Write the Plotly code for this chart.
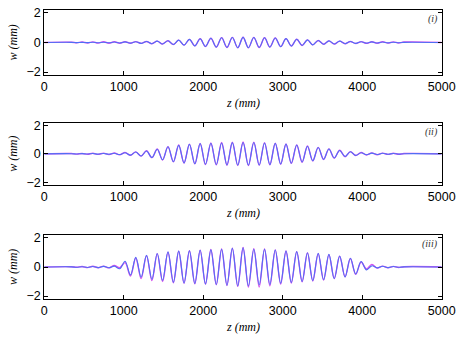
import plotly.graph_objects as go

# positions (mm) of successive crests / troughs
Z = [0, 341, 408, 476, 544, 611, 678, 746, 814, 881, 948, 1016, 1084, 1151, 1218, 1286, 1354,
     1421, 1488, 1556, 1624, 1691, 1758, 1826, 1894, 1961, 2028, 2096, 2164, 2231, 2298,
     2366, 2434, 2501, 2568, 2636, 2704, 2771, 2838, 2906, 2974, 3041, 3108, 3176, 3244,
     3311, 3378, 3446, 3514, 3581, 3648, 3716, 3784, 3851, 3918, 3986, 4054, 4121, 4188,
     4256, 4324, 4391, 4458, 4526, 5000]

# panel (i)
W1_BLUE = [0, 0.01, -0.01, 0.01, -0.01, 0.015, -0.015, 0.02, -0.02, 0.03, -0.03, 0.04, -0.04,
           0.05, -0.06, 0.07, -0.08, 0.09, -0.10, 0.12, -0.14, 0.16, -0.18, 0.21, -0.23,
           0.25, -0.27, 0.29, -0.31, 0.32, -0.33, 0.34, -0.35, 0.35, -0.35, 0.34, -0.33,
           0.32, -0.31, 0.30, -0.28, 0.26, -0.24, 0.22, -0.20, 0.18, -0.16, 0.14, -0.12,
           0.11, -0.10, 0.09, -0.08, 0.07, -0.06, 0.05, -0.045, 0.04, -0.035, 0.03, -0.025,
           0.02, -0.015, 0.01, 0]
W1_MAG = [0, 0.02, -0.02, 0.03, -0.03, 0.04, -0.04, 0.05, -0.05, 0.05, -0.05, 0.05, -0.05,
          0.06, -0.06, 0.07, -0.08, 0.09, -0.10, 0.12, -0.14, 0.16, -0.18, 0.21, -0.23,
          0.25, -0.27, 0.29, -0.31, 0.33, -0.34, 0.35, -0.36, 0.36, -0.36, 0.35, -0.34,
          0.32, -0.31, 0.30, -0.28, 0.26, -0.24, 0.22, -0.20, 0.18, -0.16, 0.14, -0.12,
          0.11, -0.10, 0.09, -0.08, 0.07, -0.07, 0.06, -0.06, 0.05, -0.05, 0.05, -0.04,
          0.04, -0.03, 0.03, 0]

# panel (ii)
W2_BLUE = [0, 0.01, -0.01, 0.015, -0.015, 0.02, -0.02, 0.03, -0.03, 0.04, -0.05, 0.08, -0.09,
           0.13, -0.15, 0.20, -0.26, 0.33, -0.42, 0.50, -0.56, 0.60, -0.64, 0.67, -0.70,
           0.72, -0.74, 0.75, -0.76, 0.77, -0.78, 0.79, -0.80, 0.80, -0.80, 0.80, -0.79,
           0.77, -0.76, 0.74, -0.72, 0.69, -0.66, 0.62, -0.58, 0.54, -0.49, 0.45, -0.39,
           0.34, -0.29, 0.24, -0.19, 0.15, -0.11, 0.08, -0.06, 0.05, -0.05, 0.04, -0.03,
           0.03, -0.02, 0.01, 0]
W2_MAG = [0, 0.02, -0.02, 0.03, -0.03, 0.04, -0.04, 0.05, -0.05, 0.06, -0.07, 0.10, -0.10,
          0.14, -0.16, 0.22, -0.27, 0.34, -0.43, 0.51, -0.57, 0.62, -0.65, 0.69, -0.71,
          0.74, -0.76, 0.77, -0.78, 0.80, -0.81, 0.82, -0.83, 0.84, -0.83, 0.83, -0.81,
          0.79, -0.77, 0.75, -0.73, 0.70, -0.67, 0.63, -0.59, 0.55, -0.50, 0.46, -0.40,
          0.35, -0.30, 0.25, -0.20, 0.16, -0.12, 0.10, -0.08, 0.07, -0.06, 0.05, -0.04,
          0.04, -0.03, 0.02, 0]

# panel (iii)
W3_BLUE = [0, 0.01, -0.02, 0.02, -0.03, 0.03, -0.04, 0.04, -0.05, 0.06, -0.12, 0.40, -0.55,
           0.66, -0.70, 0.80, -0.84, 0.93, -0.93, 1.04, -1.05, 1.09, -1.10, 1.12, -1.13,
           1.15, -1.16, 1.18, -1.20, 1.22, -1.25, 1.28, -1.30, 1.32, -1.30, 1.22, -1.22,
           1.22, -1.20, 1.17, -1.12, 1.10, -1.07, 1.06, -1.00, 0.98, -0.95, 0.94, -0.88,
           0.87, -0.80, 0.76, -0.68, 0.60, -0.48, 0.38, -0.20, 0.08, -0.06, 0.05, -0.04,
           0.03, -0.02, 0.01, 0]
W3_MAG = [0, 0.02, -0.02, 0.03, -0.04, 0.05, -0.05, 0.06, -0.06, 0.10, -0.05, 0.30, -0.62,
          0.62, -0.80, 0.78, -0.93, 0.92, -1.00, 1.02, -1.08, 1.08, -1.12, 1.12, -1.15,
          1.16, -1.18, 1.20, -1.22, 1.24, -1.27, 1.30, -1.33, 1.34, -1.38, 1.26, -1.37,
          1.24, -1.30, 1.18, -1.18, 1.10, -1.10, 1.06, -1.02, 0.98, -0.96, 0.92, -0.90,
          0.85, -0.80, 0.74, -0.68, 0.58, -0.50, 0.34, -0.14, 0.18, -0.08, 0.06, -0.05,
          0.04, -0.03, 0.02, 0]

X_TICKS = [0, 1000, 2000, 3000, 4000, 5000]
Y_TICKS = [-2, 0, 2]
PANEL_LABELS = ["(i)", "(ii)", "(iii)"]

BLUE = "rgb(80,110,245)"
MAG = "rgb(215,80,238)"

W, H = 463, 339
x_dom = [44.3 / W, 441.7 / W]
panels_px = [(10, 75), (122.7, 185), (235, 299)]
y_doms = [[1 - b / H, 1 - t / H] for t, b in panels_px]

series = [(W1_BLUE, W1_MAG), (W2_BLUE, W2_MAG), (W3_BLUE, W3_MAG)]

fig = go.Figure()
annotations = []
axes = {}

tickfont = dict(family="Liberation Sans, Arial, sans-serif", size=12.5, color="black")
serif = "Liberation Serif, Times New Roman, serif"

for i, (wb, wm) in enumerate(series):
    n = "" if i == 0 else str(i + 1)
    fig.add_trace(go.Scatter(x=Z, y=wm, mode="lines", line=dict(color=MAG, width=1.4, shape="spline"),
                             xaxis="x" + n, yaxis="y" + n))
    fig.add_trace(go.Scatter(x=Z, y=wb, mode="lines", line=dict(color=BLUE, width=1.1, shape="spline"),
                             xaxis="x" + n, yaxis="y" + n))
    axes["xaxis" + n] = dict(domain=x_dom, range=[0, 5000], anchor="y" + n, automargin=False,
                             tickvals=X_TICKS, ticktext=[str(v) for v in X_TICKS],
                             ticks="inside", ticklen=4, tickcolor="black",
                             showline=True, linecolor="black", linewidth=1, mirror="ticks",
                             showgrid=False, zeroline=False, tickfont=tickfont)
    axes["yaxis" + n] = dict(domain=y_doms[i], range=[-2.2, 2.2], anchor="x" + n, automargin=False,
                             tickvals=Y_TICKS, ticktext=["\u22122", "0", "2"],
                             ticks="inside", ticklen=4, tickcolor="black",
                             showline=True, linecolor="black", linewidth=1, mirror="ticks",
                             showgrid=False, zeroline=False, tickfont=tickfont)
    t, b = panels_px[i]
    annotations.append(dict(
        text="<i>" + PANEL_LABELS[i] + "</i>", xref="x" + n + " domain", yref="y" + n + " domain",
        x=0.995, y=0.985, xanchor="right", yanchor="top", showarrow=False,
        font=dict(family=serif, size=10, color="#333")))
    annotations.append(dict(
        text="<i>z (mm)</i>", xref="paper", yref="paper",
        x=(x_dom[0] + x_dom[1]) / 2, y=1 - (b + 28) / H, xanchor="center", yanchor="middle",
        showarrow=False, font=dict(family=serif, size=12, color="black")))
    annotations.append(dict(
        text="<i>w (mm)</i>", xref="paper", yref="paper",
        x=13 / W, y=1 - ((t + b) / 2) / H, xanchor="center", yanchor="middle",
        textangle=-90, showarrow=False, font=dict(family=serif, size=12, color="black")))

fig.update_layout(width=W, height=H, margin=dict(l=0, r=0, t=0, b=0, autoexpand=False),
                  paper_bgcolor="white", plot_bgcolor="white", showlegend=False,
                  annotations=annotations, **axes)
fig.write_html("out.html", config={"displayModeBar": False},
               post_script="document.body.style.margin='0';document.body.style.overflow='hidden';")
